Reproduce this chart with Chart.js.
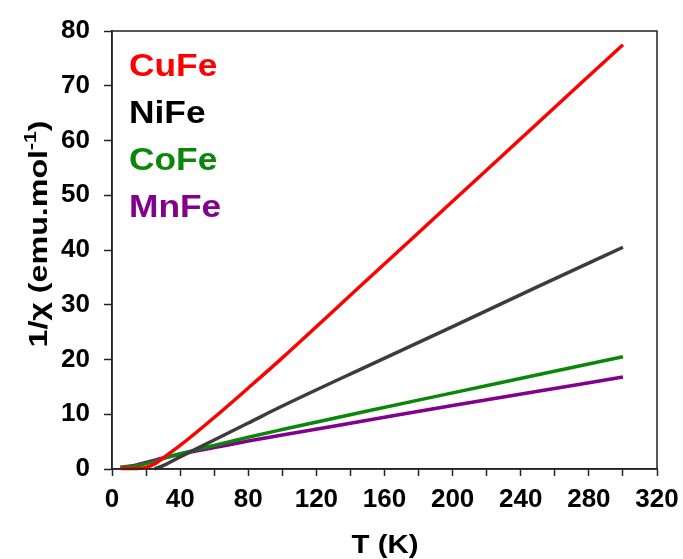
<!DOCTYPE html>
<html>
<head>
<meta charset="utf-8">
<script src="https://cdn.jsdelivr.net/npm/chart.js@4.4.1/dist/chart.umd.min.js"></script>
<style>
  html, body { margin: 0; padding: 0; background: #fff; }
  #wrap { width: 683px; height: 559px; }
</style>
</head>
<body>
<div id="wrap"><canvas id="chart"></canvas></div>
<script>
// 温度 (K) と 1/χ の読み取り値
const TEMPS = [5, 10, 15, 20, 25, 30, 40, 60, 80, 100, 150, 200, 250, 300];
const CUFE  = [0.1, 0.1, 0.1, 0.3, 0.9, 2.0, 4.3, 9.4, 14.8, 20.3, 34.6, 48.9, 63.2, 77.5];
const NIFE  = [null, null, null, null, 0.0, 0.6, 2.2, 5.3, 8.4, 11.5, 18.8, 26.0, 33.3, 40.5];
const COFE  = [0.3, 0.4, 0.6, 1.0, 1.4, 1.9, 2.8, 4.3, 5.8, 7.2, 10.6, 13.9, 17.2, 20.5];
const MNFE  = [0.3, 0.5, 0.8, 1.2, 1.6, 2.0, 2.7, 3.9, 5.1, 6.2, 8.9, 11.6, 14.2, 16.8];

const SERIES_NAMES = ['CuFe', 'NiFe', 'CoFe', 'MnFe'];
const X_TICK_MAX = 320;
const Y_TICK_MAX = 80;

const FONT = '"Liberation Sans", Arial, sans-serif';

const LINE_COLORS  = ['#ff0000', '#3c3c3c', '#0a870a', '#82008c'];
const LABEL_COLORS = ['#ff0000', '#000000', '#0a870a', '#82008c'];

const toPoints = (ys) => TEMPS.map((t, i) => ({ x: t, y: ys[i] }));

const datasets = [CUFE, NIFE, COFE, MNFE].map((ys, i) => ({
  label: SERIES_NAMES[i],
  data: toPoints(ys),
  borderColor: LINE_COLORS[i],
  backgroundColor: LINE_COLORS[i],
  borderWidth: 3.5,
  pointRadius: 0,
  cubicInterpolationMode: 'monotone',
  clip: false,
  spanGaps: false,
}));

// 横に少し広げて描く (元図のフォントは幅広)
function wideText(ctx, text, x, y, sx) {
  ctx.save();
  ctx.translate(x, y);
  ctx.scale(sx, 1);
  ctx.fillText(text, 0, 0);
  ctx.restore();
}

// グラフ内の凡例テキスト・軸タイトル・枠線
const decorations = {
  id: 'decorations',
  afterDraw(chart) {
    const { ctx, chartArea: a } = chart;
    ctx.save();
    ctx.strokeStyle = '#222';
    ctx.lineWidth = 1.5;
    ctx.strokeRect(a.left, a.top, a.right - a.left, a.bottom - a.top);

    // 凡例
    ctx.font = `bold 31px ${FONT}`;
    ctx.textBaseline = 'alphabetic';
    ctx.textAlign = 'left';
    SERIES_NAMES.forEach((name, i) => {
      ctx.fillStyle = LABEL_COLORS[i];
      wideText(ctx, name, a.left + 17, a.top + 45 + i * 47, 1.14);
    });

    // x 軸タイトル
    ctx.fillStyle = '#000';
    ctx.font = `bold 26px ${FONT}`;
    ctx.textAlign = 'center';
    ctx.textBaseline = 'middle';
    wideText(ctx, 'T (K)', 385, 546, 1.13);

    // y 軸タイトル (上付き -1)
    ctx.translate(38, 234);
    ctx.rotate(-Math.PI / 2);
    const main = '1/\u03c7 (emu.mol';
    const sup = '-1';
    const close = ')';
    const bigFont = `bold 26px ${FONT}`;
    const smallFont = `bold 17px ${FONT}`;
    ctx.font = bigFont;
    const wMain = ctx.measureText(main).width;
    const wClose = ctx.measureText(close).width;
    ctx.font = smallFont;
    const wSup = ctx.measureText(sup).width;
    const total = wMain + wSup + wClose;
    ctx.scale(227 / total, 1);
    let x = -total / 2;
    ctx.textAlign = 'left';
    ctx.textBaseline = 'alphabetic';
    ctx.font = bigFont;
    ctx.fillText(main, x, 9);
    x += wMain;
    ctx.font = smallFont;
    ctx.fillText(sup, x, -2);
    x += wSup;
    ctx.font = bigFont;
    ctx.fillText(close, x, 9);
    ctx.restore();
  },
};

new Chart(document.getElementById('chart').getContext('2d'), {
  type: 'line',
  data: { datasets },
  plugins: [decorations],
  options: {
    responsive: true,
    maintainAspectRatio: false,
    animation: false,
    layout: { padding: { top: 31, right: 26, left: 0, bottom: 0 } },
    plugins: { legend: { display: false }, tooltip: { enabled: false } },
    scales: {
      x: {
        type: 'linear',
        min: 0,
        max: X_TICK_MAX,
        afterFit: (s) => { s.height = 90; s.paddingLeft = 0; s.paddingRight = 0; },
        border: { display: true, color: '#222', width: 1.5 },
        grid: { drawOnChartArea: false, drawTicks: true, tickLength: 7, color: '#222', tickWidth: 1.5 },
        ticks: {
          stepSize: 20,
          autoSkip: false,
          maxRotation: 0,
          padding: 8,
          color: '#000',
          font: { family: FONT, size: 26, weight: 'bold' },
          callback: (v) => (v % 40 === 0 ? String(v) : ''),
        },
      },
      y: {
        min: 0,
        max: Y_TICK_MAX,
        afterFit: (s) => { s.width = 112; s.paddingTop = 0; s.paddingBottom = 0; },
        border: { display: true, color: '#222', width: 1.5 },
        grid: { drawOnChartArea: false, drawTicks: true, tickLength: 8, color: '#222', tickWidth: 1.5 },
        ticks: {
          stepSize: 10,
          padding: 14,
          color: '#000',
          font: { family: FONT, size: 26, weight: 'bold' },
        },
      },
    },
  },
});
</script>
</body>
</html>
